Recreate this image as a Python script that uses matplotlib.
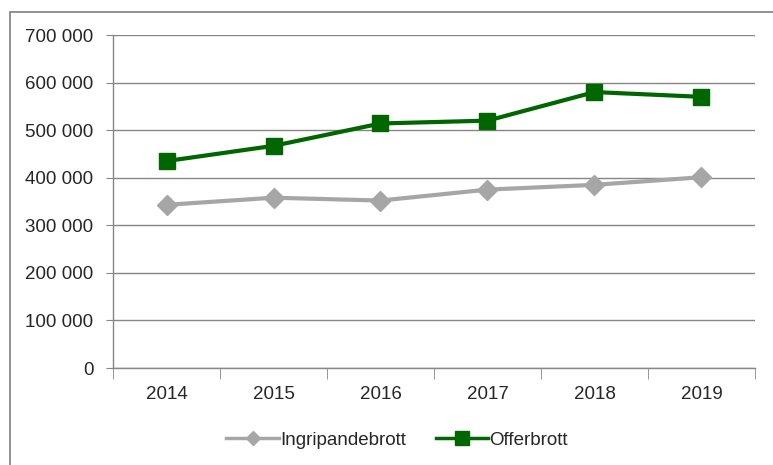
import matplotlib
matplotlib.use("Agg")
import matplotlib.pyplot as plt
from matplotlib.patches import Rectangle
from matplotlib.ticker import FuncFormatter, FixedLocator

years = ["2014", "2015", "2016", "2017", "2018", "2019"]
ingripandebrott = [343000, 358000, 352000, 375000, 385000, 401000]
offerbrott = [435000, 467000, 514000, 520000, 580000, 570000]
yticks = [0, 100000, 200000, 300000, 400000, 500000, 600000, 700000]

plt.rcParams['font.family'] = ['Liberation Sans', 'DejaVu Sans']

W, H = 773, 465
fig = plt.figure(figsize=(W/100, H/100), dpi=100)
fig.patch.set_facecolor('white')
fig.patches.append(Rectangle((10/W, -0.1), 1.2, 1 - 12/H + 0.1, transform=fig.transFigure,
                             fill=False, edgecolor='#7F7F7F', linewidth=1.2))

ax = fig.add_axes([113/W, 1 - 368/H, (755-113)/W, (368-35)/H])
x = list(range(len(years)))
ax.plot(x, ingripandebrott, color='#A6A6A6', linewidth=3, marker='D', markersize=10,
        markerfacecolor='#A6A6A6', markeredgecolor='#A6A6A6', label='Ingripandebrott', zorder=3)
ax.plot(x, offerbrott, color='#006600', linewidth=3, marker='s', markersize=12,
        markerfacecolor='#006600', markeredgecolor='#006600', label='Offerbrott', zorder=4)

ax.set_xlim(-0.5, len(years) - 0.5)
ax.set_ylim(0, 700000)
ax.set_yticks(yticks)
ax.yaxis.set_major_formatter(FuncFormatter(lambda v, p: f"{int(v):,}".replace(",", " ")))
ax.grid(axis='y', color='#868686', linewidth=1)
ax.set_axisbelow(True)

ax.set_xticks(x)
ax.set_xticklabels(years)
ax.xaxis.set_minor_locator(FixedLocator([i - 0.5 for i in range(len(years) + 1)]))
ax.tick_params(axis='x', which='major', length=0, pad=13, labelsize=13.5)
ax.tick_params(axis='x', which='minor', length=8, color='#868686', direction='out')
ax.tick_params(axis='y', length=5, color='#868686', labelsize=13.5, pad=9)
for lbl in ax.get_xticklabels() + ax.get_yticklabels():
    lbl.set_color('#262626')

for s in ['top', 'right']:
    ax.spines[s].set_visible(False)
for s in ['left', 'bottom']:
    ax.spines[s].set_color('#868686')
    ax.spines[s].set_linewidth(1)

leg = fig.legend(loc='center', bbox_to_anchor=(397/W, 1 - 440/H), ncol=2, frameon=False,
                 fontsize=13.5, handlelength=2.8, columnspacing=1.6, handletextpad=0.05)
for t in leg.get_texts():
    t.set_color('#262626')
hs = leg.legend_handles
hs[0].set_linewidth(2.5)
hs[0].set_markersize(7)
hs[1].set_linewidth(2.5)
hs[1].set_markersize(10)

fig.savefig('out.png', dpi=100)
